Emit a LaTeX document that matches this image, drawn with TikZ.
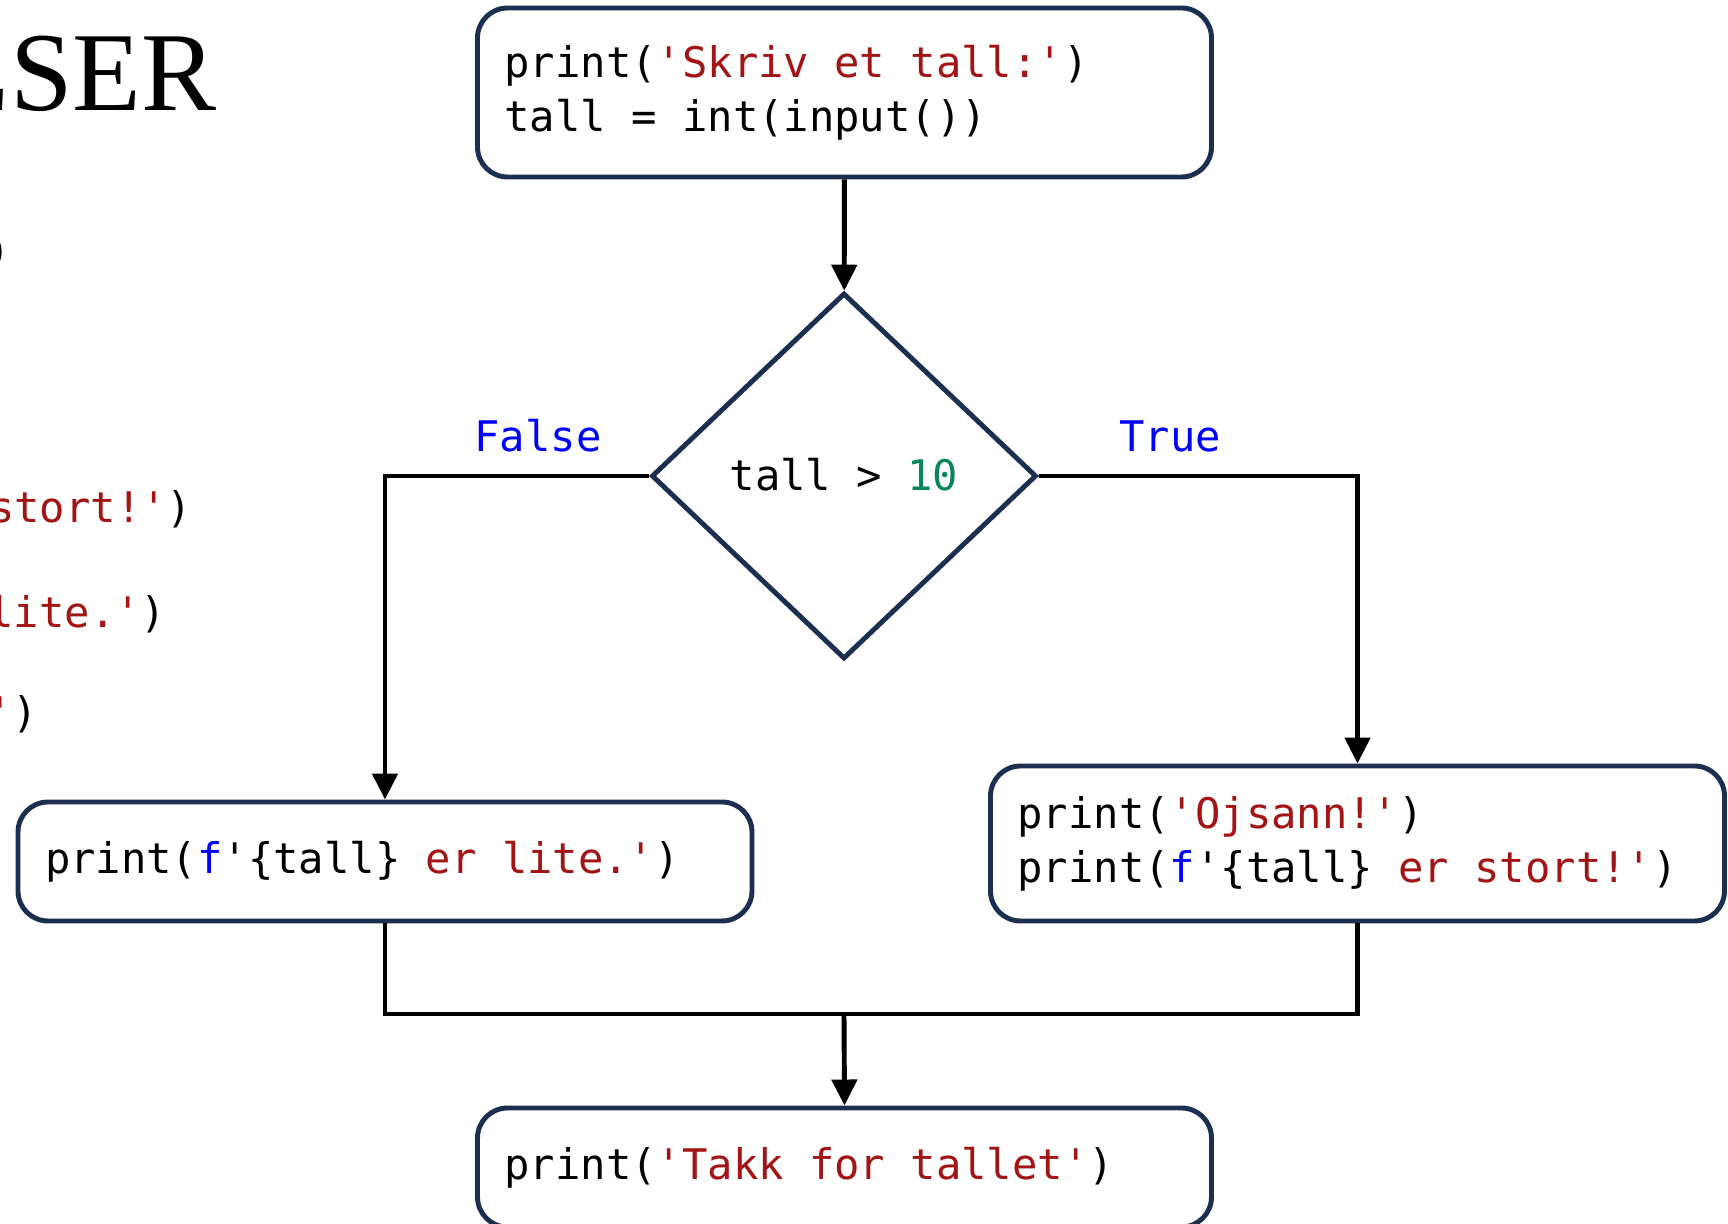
\documentclass[tikz,border=0pt]{standalone}
\usepackage{xcolor}
\usepackage{fontspec}
\usepackage{tikz}
\usetikzlibrary{shapes.geometric,arrows.meta,positioning,calc}
\setmonofont{DejaVu Sans Mono}
\newfontfamily\slidefont{Liberation Serif}
\definecolor{boxnavy}{HTML}{1D2F50}
\definecolor{strred}{HTML}{A31515}
\definecolor{kwblue}{HTML}{0000FF}
\definecolor{numgreen}{HTML}{098658}
\newcommand{\pystr}[1]{\textcolor{strred}{#1}}
\newcommand{\pykw}[1]{\textcolor{kwblue}{#1}}
\newcommand{\pynum}[1]{\textcolor{numgreen}{#1}}

\tikzset{
  codebox/.style={draw=boxnavy,line width=1.4pt,rounded corners=0.3cm,fill=white,
    text width=6.8cm,inner xsep=0.27cm,align=flush left,
    execute at begin node={\spaceskip=0pt\xspaceskip=0pt},
    font=\fontsize{12}{15.4}\selectfont\ttfamily},
  decision/.style={diamond,draw=boxnavy,line width=1.4pt,fill=white,inner sep=0pt,
    minimum width=3.85cm,minimum height=3.66cm,font=\fontsize{12}{15.4}\selectfont\ttfamily},
  flow/.style={line width=1.4pt,-{Triangle[width=0.25cm,length=0.26cm]}},
  branch/.style={text=kwblue,anchor=base,font=\fontsize{12}{15.4}\selectfont\ttfamily},
  slidecode/.style={anchor=base east,inner sep=0pt,font=\fontsize{12}{15.4}\selectfont\ttfamily}
}

\begin{document}
\begin{tikzpicture}
  \clip (0,0) rectangle (17.28,12.24);

  % Slide text behind the chart
  \node[anchor=base east,inner sep=0pt,font=\fontsize{32}{38}\slidefont] (title) at (2.17,11.13) {LSER};
  \node[slidecode] (bgone) at (0.12,9.58) {)};
  \node[slidecode] (bgtwo) at (1.93,7.01) {\pystr{stort!'})};
  \node[slidecode] (bgthree) at (1.67,5.96) {\pystr{lite.'})};
  \node[slidecode] (bgfour) at (0.39,4.96) {\pystr{'})};

  % Input
  \node[codebox,minimum height=1.69cm] (start) at (8.445,11.315)
    {print(\pystr{'Skriv et tall:'})\\tall = int(input())};

  % Test
  \node[decision] (test) at (8.44,7.48) {\raisebox{0.04cm}{tall > \pynum{10}}};
  \node[branch] (nolabel) at (5.38,7.72) {False};
  \node[branch] (yeslabel) at (11.70,7.72) {True};

  % Branches
  \node[codebox,minimum height=1.19cm] (small) at (3.85,3.625)
    {print(\pykw{f}'\{tall\} \pystr{er lite.'})};
  \node[codebox,minimum height=1.55cm] (big) at (13.575,3.805)
    {print(\pystr{'Ojsann!'})\\print(\pykw{f}'\{tall\} \pystr{er stort!'})};

  % End
  \node[codebox,minimum height=1.19cm] (done) at (8.445,0.565)
    {print(\pystr{'Takk for tallet'})};

  \coordinate (join) at (8.44,2.10);

  % Connectors
  \draw[flow] (start) -- (test);
  \draw[flow] (test.west) -| (small.north);
  \draw[flow] (test.east) -| (big.north);
  \draw[line width=1.4pt] (small.south) |- (join) -| (big.south);
  \draw[flow] (join) -- (done.north);
\end{tikzpicture}
\end{document}
